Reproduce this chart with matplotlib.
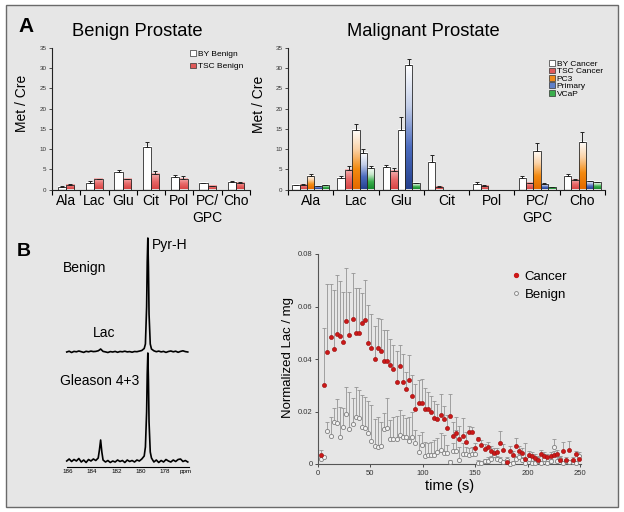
import numpy as np
import matplotlib
matplotlib.use('Agg')
import matplotlib.pyplot as plt
from matplotlib.colors import LinearSegmentedColormap
from matplotlib.patches import Rectangle, Patch
from matplotlib.lines import Line2D

plt.rcParams['font.family'] = ['Liberation Sans', 'DejaVu Sans']

# ---------------- panel A : metabolite ratios ----------------
metabolites = ['Ala', 'Lac', 'Glu', 'Cit', 'Pol', 'PC/\nGPC', 'Cho']

by_benign = [0.7, 1.7, 4.3, 10.4, 3.0, 1.5, 1.9]
by_benign_err = [0.1, 0.4, 0.6, 1.4, 0.5, 0.2, 0.2]
tsc_benign = [1.2, 2.5, 2.5, 3.9, 2.5, 0.8, 1.7]
tsc_benign_err = [0.15, 0.2, 0.2, 0.6, 0.8, 0.1, 0.2]

nan = np.nan
by_cancer = [1.1, 2.9, 5.5, 6.8, 1.4, 2.9, 3.3]
by_cancer_err = [0.1, 0.4, 0.5, 1.8, 0.4, 0.4, 0.5]
tsc_cancer = [1.2, 4.9, 4.5, 0.6, 0.8, 1.5, 2.3]
tsc_cancer_err = [0.1, 0.8, 0.8, 0.2, 0.2, 0.2, 0.3]
pc3 = [3.3, 14.7, 14.6, nan, nan, 9.4, 11.7]
pc3_err = [0.5, 1.4, 3.4, nan, nan, 2.1, 2.5]
primary = [0.8, 9.1, 30.9, nan, nan, 1.3, 2.1]
primary_err = [0.1, 0.8, 1.5, nan, nan, 0.2, 0.1]
vcap = [1.0, 5.4, 1.5, nan, nan, 0.5, 1.8]
vcap_err = [0.1, 0.4, 0.1, nan, nan, 0.1, 0.1]

# ---------------- panel B : 13C spectra ----------------
spec_ppm = [186.1, 185.9, 185.7, 185.5, 185.3, 185.1, 184.9, 184.7, 184.5, 184.3,
            184.1, 183.9, 183.7, 183.5, 183.4, 183.3, 183.2, 183.1, 182.9, 182.7,
            182.5, 182.3, 182.1, 181.9, 181.7, 181.5, 181.3, 181.1, 180.9, 180.7,
            180.5, 180.3, 180.1, 179.9, 179.7, 179.6, 179.5, 179.45, 179.4, 179.35,
            179.3, 179.2, 179.1, 178.9, 178.7, 178.5, 178.3, 178.1, 177.9, 177.7,
            177.5, 177.3, 177.1, 176.9, 176.7, 176.5, 176.3, 176.1]
spec_benign = [0.0, 0.8, -0.5, 0.6, 0.2, 1.0, 0.3, -0.4, 0.7, 0.2,
               0.9, 0.4, 0.6, 1.2, 2.0, 3.0, 1.8, 0.6, 0.1, -0.5,
               0.4, 0.0, 0.6, -0.3, 0.5, 0.2, 0.8, 0.1, 0.4, -0.2,
               0.5, 0.3, 0.9, 1.5, 3.5, 8.0, 45.0, 90.0, 114.0, 85.0,
               38.0, 8.0, 3.0, 1.2, 0.3, 0.9, 0.1, 0.6, -0.4, 0.5,
               1.0, 0.2, 0.8, -0.3, 0.6, 1.2, 0.4, 0.0]
spec_gleason = [1.0, 3.0, 0.5, 2.5, 1.0, 3.5, 0.0, 2.0, -0.5, 2.5,
                1.0, 3.0, 1.5, 4.0, 12.0, 22.0, 10.0, 2.0, 0.0, 1.5,
                -0.5, 1.0, 0.0, 2.0, 0.5, 1.5, -0.5, 2.0, 0.5, 1.5,
                0.0, 2.0, 1.0, 3.0, 6.0, 15.0, 50.0, 88.0, 109.0, 82.0,
                40.0, 10.0, 4.0, 0.0, 2.0, -0.5, 1.5, 0.0, 2.5, 1.0,
                0.0, 2.0, 0.5, 2.5, 3.0, 0.5, 1.5, 0.0]
ppm_ticks = [186, 184, 182, 180, 178, 176.3]
ppm_labels = ['186', '184', '182', '180', '178', 'ppm']

# ---------------- panel B : lactate time course ----------------
time_s = np.arange(3, 250, 3)
cancer = [0.0035, 0.0300, 0.0427, 0.0485, 0.0439, 0.0495, 0.0489, 0.0463, 0.0545, 0.0491,
          0.0554, 0.0498, 0.0498, 0.0536, 0.0549, 0.0462, 0.0443, 0.0401, 0.0441, 0.0430,
          0.0394, 0.0391, 0.0376, 0.0361, 0.0314, 0.0375, 0.0312, 0.0285, 0.0319, 0.0258,
          0.0209, 0.0231, 0.0233, 0.0211, 0.0211, 0.0200, 0.0177, 0.0170, 0.0187, 0.0170,
          0.0136, 0.0183, 0.0107, 0.0119, 0.0094, 0.0107, 0.0085, 0.0121, 0.0123, 0.0061,
          0.0095, 0.0072, 0.0057, 0.0065, 0.0050, 0.0043, 0.0044, 0.0079, 0.0053, 0.0008,
          0.0050, 0.0033, 0.0069, 0.0048, 0.0041, 0.0018, 0.0033, 0.0030, 0.0022, 0.0015,
          0.0037, 0.0029, 0.0028, 0.0032, 0.0034, 0.0038, 0.0015, 0.0051, 0.0015, 0.0053,
          0.0015, 0.0038, 0.0020]
cancer_top = [0.0055, 0.0517, 0.0685, 0.0685, 0.0663, 0.0720, 0.0696, 0.0654, 0.0748, 0.0656,
              0.0727, 0.0669, 0.0669, 0.0653, 0.0700, 0.0605, 0.0571, 0.0525, 0.0556, 0.0552,
              0.0510, 0.0510, 0.0476, 0.0453, 0.0432, 0.0455, 0.0418, 0.0349, 0.0415, 0.0339,
              0.0303, 0.0320, 0.0323, 0.0290, 0.0276, 0.0260, 0.0240, 0.0230, 0.0265, 0.0220,
              0.0187, 0.0265, 0.0160, 0.0180, 0.0145, 0.0174, 0.0123, 0.0145, 0.0140, 0.0080,
              0.0104, 0.0090, 0.0075, 0.0085, 0.0068, 0.0060, 0.0060, 0.0125, 0.0075, 0.0020,
              0.0070, 0.0050, 0.0098, 0.0070, 0.0060, 0.0081, 0.0050, 0.0045, 0.0040, 0.0030,
              0.0055, 0.0045, 0.0040, 0.0045, 0.0050, 0.0055, 0.0030, 0.0085, 0.0025, 0.0088,
              0.0025, 0.0050, 0.0035]
benign = [0.0018, 0.0025, 0.0127, 0.0108, 0.0161, 0.0157, 0.0104, 0.0142, 0.0189, 0.0133,
          0.0151, 0.0178, 0.0174, 0.0142, 0.0138, 0.0119, 0.0089, 0.0069, 0.0066, 0.0069,
          0.0132, 0.0138, 0.0095, 0.0094, 0.0094, 0.0110, 0.0102, 0.0102, 0.0088, 0.0104,
          0.0079, 0.0044, 0.0072, 0.0030, 0.0033, 0.0036, 0.0034, 0.0047, 0.0053, 0.0043,
          0.0041, 0.0009, 0.0050, 0.0051, 0.0015, 0.0038, 0.0038, 0.0034, 0.0038, 0.0040,
          0.0005, 0.0003, 0.0011, 0.0013, 0.0018, 0.0033, 0.0018, 0.0015, 0.0009, 0.0015,
          0.0001, 0.0003, 0.0018, 0.0028, 0.0015, 0.0003, 0.0018, 0.0003, 0.0005, 0.0013,
          0.0003, 0.0018, 0.0004, 0.0010, 0.0065, 0.0013, 0.0018, 0.0003, 0.0010, 0.0006,
          0.0009, 0.0004, 0.0030]
benign_top = [0.0025, 0.0030, 0.0161, 0.0180, 0.0212, 0.0246, 0.0216, 0.0212, 0.0292, 0.0276,
              0.0250, 0.0292, 0.0282, 0.0263, 0.0256, 0.0240, 0.0225, 0.0170, 0.0178, 0.0161,
              0.0193, 0.0250, 0.0168, 0.0180, 0.0183, 0.0206, 0.0187, 0.0174, 0.0180, 0.0200,
              0.0130, 0.0110, 0.0123, 0.0085, 0.0079, 0.0085, 0.0090, 0.0098, 0.0117, 0.0110,
              0.0072, 0.0015, 0.0079, 0.0130, 0.0066, 0.0079, 0.0065, 0.0060, 0.0065, 0.0060,
              0.0015, 0.0010, 0.0020, 0.0025, 0.0030, 0.0045, 0.0030, 0.0025, 0.0015, 0.0025,
              0.0005, 0.0010, 0.0030, 0.0040, 0.0025, 0.0010, 0.0030, 0.0010, 0.0015, 0.0025,
              0.0010, 0.0030, 0.0010, 0.0020, 0.0095, 0.0025, 0.0030, 0.0010, 0.0020, 0.0015,
              0.0020, 0.0010, 0.0045]

W, H = 624, 512
BG = '#e6e6e6'


def box(x0, y0, x1, y1):
    # pixel box (top-left origin) -> figure fraction rect
    return [x0 / W, 1 - y1 / H, (x1 - x0) / W, (y1 - y0) / H]


def fpos(x, y):
    return (x / W, 1 - y / H)


cmaps = {
    'white': LinearSegmentedColormap.from_list('w', ['white', 'white']),
    'red': LinearSegmentedColormap.from_list('r', ['#d84545', '#e86a6a', '#f4b4b4']),
    'orange': LinearSegmentedColormap.from_list('o', ['#e46a00', '#f38a10', '#fbd3a8', 'white']),
    'blue': LinearSegmentedColormap.from_list('b', ['#25418f', '#4c6cbf', '#c4cfe9', 'white']),
    'green': LinearSegmentedColormap.from_list('g', ['#158a2c', '#3aae4c', '#c8e8cc', 'white']),
}
legend_colors = {'white': 'white', 'red': '#e05a5a', 'orange': '#f08a1a',
                 'blue': '#5f7fc8', 'green': '#3aae4c'}
grad = np.linspace(0, 1, 64).reshape(-1, 1)


def gradient_bars(ax, xs, vals, errs, width, cname, plain=()):
    for i, (x, v, e) in enumerate(zip(xs, vals, errs)):
        if not np.isfinite(v):
            continue
        x0 = x - width / 2
        cm = cmaps['white'] if i in plain else cmaps[cname]
        ax.imshow(grad, cmap=cm, origin='lower', aspect='auto',
                  extent=(x0, x0 + width, 0, v), zorder=2, interpolation='bilinear')
        ax.add_patch(Rectangle((x0, 0), width, v, facecolor='none',
                               edgecolor='#2a2a2a', lw=0.6, zorder=3))
        ax.errorbar([x], [v], yerr=[[0], [e]], fmt='none', ecolor='#222222',
                    elinewidth=0.7, capsize=1.4, capthick=0.7, zorder=4)


def style_bar_axes(ax):
    ax.patch.set_visible(False)
    ax.set_xlim(-0.5, len(metabolites) - 0.5)
    ax.set_ylim(0, 35)
    ax.set_yticks(range(0, 36, 5))
    for s in ('top', 'right'):
        ax.spines[s].set_visible(False)
    for s in ('left', 'bottom'):
        ax.spines[s].set_linewidth(0.8)
        ax.spines[s].set_color('#222222')
    ax.tick_params(axis='y', labelsize=4.5, length=2.5, width=0.6, pad=1.5, colors='#333333')
    ax.set_xticks(range(len(metabolites)))
    ax.set_xticklabels(metabolites, fontsize=10)
    ax.set_xticks(np.arange(-0.5, len(metabolites)), minor=True)
    ax.tick_params(axis='x', which='major', length=0, pad=3.5)
    ax.tick_params(axis='x', which='minor', length=3.5, width=0.8, direction='out')


fig = plt.figure(figsize=(6.24, 5.12), dpi=100)
fig.patches.append(Rectangle((6 / W, 1 - 507 / H), 612 / W, 502 / H, transform=fig.transFigure,
                             facecolor=BG, edgecolor='#6a6a6a', lw=1.0, zorder=-10))

x = np.arange(len(metabolites))

# benign bars
ax1 = fig.add_axes(box(52, 48, 250, 189.5))
style_bar_axes(ax1)
w1 = 0.295
gradient_bars(ax1, x - w1 / 2, by_benign, by_benign_err, w1, 'white')
gradient_bars(ax1, x + w1 / 2, tsc_benign, tsc_benign_err, w1, 'red')
style_bar_axes(ax1)
h1 = [Patch(facecolor=legend_colors[c], edgecolor='#333333', lw=0.5) for c in ('white', 'red')]
ax1.legend(h1, ['BY Benign', 'TSC Benign'], loc='upper right', bbox_to_anchor=fpos(248, 46),
           bbox_transform=fig.transFigure, frameon=False, fontsize=6, handlelength=0.7,
           handleheight=0.7, handletextpad=0.3, labelspacing=0.55, borderpad=0)

# malignant bars
ax2 = fig.add_axes(box(288, 48, 605, 189.5))
style_bar_axes(ax2)
w2 = 0.164
series = [(by_cancer, by_cancer_err, 'white'), (tsc_cancer, tsc_cancer_err, 'red'),
          (pc3, pc3_err, 'orange'), (primary, primary_err, 'blue'), (vcap, vcap_err, 'green')]
for j, (vals, errs, cname) in enumerate(series):
    # the PC3 Glu bar is left unfilled in the original figure
    plain = (2,) if cname == 'orange' else ()
    gradient_bars(ax2, x + (j - 2) * w2, vals, errs, w2, cname, plain)
style_bar_axes(ax2)
h2 = [Patch(facecolor=legend_colors[c], edgecolor='#333333', lw=0.5)
      for c in ('white', 'red', 'orange', 'blue', 'green')]
ax2.legend(h2, ['BY Cancer', 'TSC Cancer', 'PC3', 'Primary', 'VCaP'], loc='upper right',
           bbox_to_anchor=fpos(607, 56), bbox_transform=fig.transFigure, frameon=False,
           fontsize=6, handlelength=0.7, handleheight=0.7, handletextpad=0.25,
           labelspacing=-0.05, borderpad=0)

fig.text(*fpos(22, 103), 'Met / Cre', rotation=90, ha='center', va='center', fontsize=10)
fig.text(*fpos(259, 104), 'Met / Cre', rotation=90, ha='center', va='center', fontsize=10)
fig.text(*fpos(137, 31), 'Benign Prostate', ha='center', va='center', fontsize=13.2)
fig.text(*fpos(423, 31), 'Malignant Prostate', ha='center', va='center', fontsize=13.2)
fig.text(*fpos(18, 26), 'A', ha='left', va='center', fontsize=15, fontweight='bold')
fig.text(*fpos(17, 252), 'B', ha='left', va='center', fontsize=14, fontweight='bold')

# spectra
ax3 = fig.add_axes(box(55, 230, 200, 480))
ax3.patch.set_visible(False)
ax3.set_xlim(187.07, 175.09)
ax3.set_ylim(-18, 232)
ax3.plot(spec_ppm, np.array(spec_benign) + 110, color='black', lw=1.2)
ax3.plot(spec_ppm, spec_gleason, color='black', lw=1.2)
for s in ('top', 'right', 'left'):
    ax3.spines[s].set_visible(False)
ax3.spines['bottom'].set_position(('data', -5))
ax3.spines['bottom'].set_bounds(186.1, 176.0)
ax3.spines['bottom'].set_linewidth(0.8)
ax3.set_yticks([])
ax3.set_xticks(ppm_ticks)
ax3.set_xticklabels(ppm_labels)
ax3.tick_params(axis='x', length=0, labelsize=4.5, pad=1.5)
fig.text(*fpos(85, 268), 'Benign', ha='center', va='center', fontsize=10)
fig.text(*fpos(152, 245), 'Pyr-H', ha='left', va='center', fontsize=10)
fig.text(*fpos(104, 333), 'Lac', ha='center', va='center', fontsize=10)
fig.text(*fpos(100, 381), 'Gleason 4+3', ha='center', va='center', fontsize=10)

# lactate time course
ax4 = fig.add_axes(box(318, 254, 581, 464))
ax4.patch.set_visible(False)
cancer = np.array(cancer)
benign = np.array(benign)
ax4.errorbar(time_s, benign, yerr=[np.zeros_like(benign), np.array(benign_top) - benign],
             fmt='none', ecolor='#949494', elinewidth=0.6, capsize=1.2, capthick=0.6, zorder=2)
ax4.errorbar(time_s, cancer, yerr=[np.zeros_like(cancer), np.array(cancer_top) - cancer],
             fmt='none', ecolor='#949494', elinewidth=0.6, capsize=1.2, capthick=0.6, zorder=2)
ax4.plot(time_s, benign, 'o', ms=3.0, mfc='#f2f2f2', mec='#808080', mew=0.6,
         clip_on=False, zorder=3)
ax4.plot(time_s, cancer, 'o', ms=3.0, mfc='#cc1818', mec='#9a1010', mew=0.4,
         clip_on=False, zorder=4)
ax4.set_xlim(0, 251)
ax4.set_ylim(0, 0.08)
ax4.set_xticks(range(0, 251, 50))
ax4.set_yticks([0, 0.02, 0.04, 0.06, 0.08])
ax4.yaxis.set_major_formatter(plt.FormatStrFormatter('%g'))
for s in ('top', 'right'):
    ax4.spines[s].set_visible(False)
for s in ('left', 'bottom'):
    ax4.spines[s].set_linewidth(0.8)
    ax4.spines[s].set_color('#555555')
ax4.tick_params(labelsize=5.5, length=2.5, width=0.6, pad=1.5, colors='#333333')
fig.text(*fpos(450, 486), 'time (s)', ha='center', va='center', fontsize=10.5)
fig.text(*fpos(288, 358), 'Normalized Lac / mg', rotation=90, ha='center', va='center',
         fontsize=9.5)
h4 = [Line2D([], [], ls='', marker='o', ms=2.8, mfc='#cc1818', mec='#cc1818'),
      Line2D([], [], ls='', marker='o', ms=2.8, mfc='#f2f2f2', mec='#808080', mew=0.6)]
ax4.legend(h4, ['Cancer', 'Benign'], loc='upper left', bbox_to_anchor=fpos(505, 264),
           bbox_transform=fig.transFigure, frameon=False, fontsize=9.5, handlelength=0.6,
           handletextpad=0.4, labelspacing=0.45, borderpad=0)

fig.savefig('out.png', dpi=100, facecolor='white')
